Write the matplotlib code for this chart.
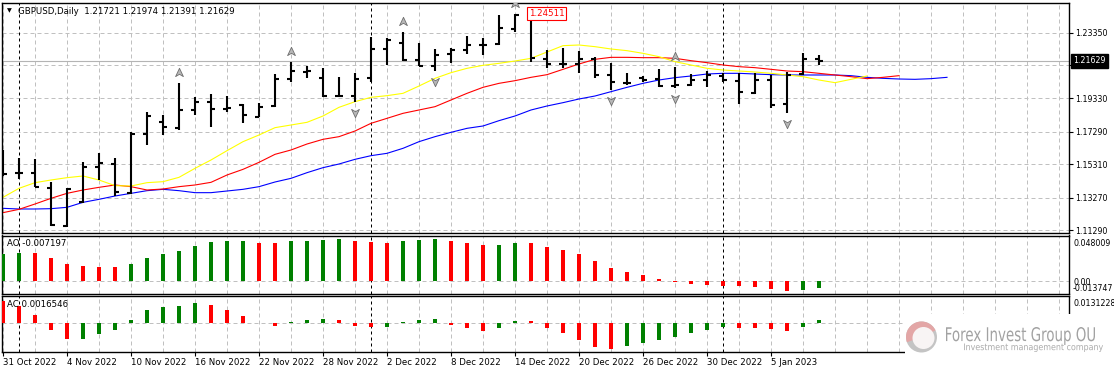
"""
GBPUSD daily bar chart with Alligator, Fractals, AO and AC sub-windows
(MetaTrader style screenshot recreation).
"""
import numpy as np
import pandas as pd
import matplotlib
matplotlib.use("Agg")
import matplotlib.pyplot as plt
from matplotlib.path import Path
from matplotlib.patches import PathPatch, Rectangle, Circle, Wedge
from matplotlib.textpath import TextPath
from matplotlib.font_manager import FontProperties
from matplotlib.transforms import Affine2D, offset_copy, blended_transform_factory


# ---- data -------------------------------------------------------------------
dates = [
    "2022-10-31", "2022-11-01", "2022-11-02", "2022-11-03", "2022-11-04",
    "2022-11-07", "2022-11-08", "2022-11-09", "2022-11-10", "2022-11-11",
    "2022-11-14", "2022-11-15", "2022-11-16", "2022-11-17", "2022-11-18",
    "2022-11-21", "2022-11-22", "2022-11-23", "2022-11-24", "2022-11-25",
    "2022-11-28", "2022-11-29", "2022-11-30", "2022-12-01", "2022-12-02",
    "2022-12-05", "2022-12-06", "2022-12-07", "2022-12-08", "2022-12-09",
    "2022-12-12", "2022-12-13", "2022-12-14", "2022-12-15", "2022-12-16",
    "2022-12-19", "2022-12-20", "2022-12-21", "2022-12-22", "2022-12-23",
    "2022-12-26", "2022-12-27", "2022-12-28", "2022-12-29", "2022-12-30",
    "2023-01-02", "2023-01-03", "2023-01-04", "2023-01-05", "2023-01-06",
    "2023-01-09", "2023-01-10",
]

opens = [1.15570, 1.14755, 1.14755, 1.13878, 1.11536, 1.13023, 1.15162, 1.15325,
         1.13532, 1.17159, 1.17913, 1.17505, 1.18626, 1.19094, 1.18687, 1.18931,
         1.18218, 1.18870, 1.20500, 1.20948, 1.20602, 1.19502, 1.19502, 1.20561,
         1.22333, 1.22700, 1.21682, 1.21335, 1.22028, 1.22293, 1.22578, 1.22639,
         1.23556, 1.24228, 1.21743, 1.21437, 1.21437, 1.21722, 1.20765, 1.20297,
         1.20602, 1.20500, 1.20093, 1.20154, 1.20459, 1.20704, 1.20418, 1.19644,
         1.20459, 1.18992, 1.20826, 1.21721]
highs = [1.16181, 1.15671, 1.15610, 1.14245, 1.13838, 1.15427, 1.15977, 1.15671,
         1.17301, 1.18526, 1.18320, 1.20296, 1.19400, 1.19583, 1.19502, 1.18972,
         1.19033, 1.20826, 1.21580, 1.21315, 1.21172, 1.20622, 1.20868, 1.23067,
         1.23006, 1.23413, 1.22700, 1.22333, 1.22394, 1.23169, 1.23046, 1.24432,
         1.24511, 1.24289, 1.22293, 1.22394, 1.22231, 1.21885, 1.21478, 1.20908,
         1.20704, 1.21131, 1.21274, 1.20826, 1.21029, 1.20868, 1.20908, 1.20868,
         1.20765, 1.20969, 1.22089, 1.21974]
lows = [1.14592, 1.14387, 1.13899, 1.11536, 1.11495, 1.12921, 1.14347, 1.13369,
        1.13491, 1.16489, 1.17098, 1.17403, 1.18320, 1.17607, 1.18524, 1.17811,
        1.18177, 1.18789, 1.20357, 1.20561, 1.19400, 1.19481, 1.19135, 1.20357,
        1.21376, 1.21620, 1.21315, 1.21029, 1.21518, 1.22048, 1.21987, 1.22598,
        1.23413, 1.21580, 1.21172, 1.21172, 1.20868, 1.20561, 1.19848, 1.20154,
        1.20357, 1.20011, 1.19970, 1.20093, 1.20052, 1.20357, 1.18972, 1.19583,
        1.18727, 1.18422, 1.20765, 1.21391]
closes = [1.14694, 1.14796, 1.13940, 1.11577, 1.13777, 1.15162, 1.15366, 1.13594,
          1.17159, 1.18281, 1.17607, 1.18628, 1.19094, 1.18666, 1.18768, 1.18320,
          1.18829, 1.20500, 1.21029, 1.20989, 1.19502, 1.19481, 1.20520, 1.22333,
          1.22904, 1.21682, 1.21335, 1.21987, 1.22293, 1.22598, 1.22619, 1.23617,
          1.24432, 1.21783, 1.21437, 1.21437, 1.21722, 1.20765, 1.20317, 1.20276,
          1.20459, 1.20093, 1.20154, 1.20459, 1.20765, 1.20459, 1.19705, 1.20459,
          1.18931, 1.20765, 1.21722, 1.21629]

# Alligator lines (already shifted forward, so they run past the last bar)
jaw = [1.12616, 1.12575, 1.12575, 1.12595, 1.12677, 1.12982, 1.13166, 1.13369,
       1.13532, 1.13695, 1.13777, 1.13695, 1.13573, 1.13573, 1.13675, 1.13777,
       1.13940, 1.14225, 1.14449, 1.14795, 1.15101, 1.15325, 1.15610, 1.15834,
       1.15977, 1.16283, 1.16690, 1.16996, 1.17261, 1.17505, 1.17648, 1.17974,
       1.18259, 1.18626, 1.18870, 1.19074, 1.19298, 1.19481, 1.19746, 1.20011,
       1.20255, 1.20459, 1.20602, 1.20704, 1.20826, 1.20867, 1.20867, 1.20826,
       1.20785, 1.20765, 1.20765, 1.20765, 1.20765, 1.20724, 1.20622, 1.20561,
       1.20520, 1.20500, 1.20541, 1.20622]
teeth = [1.12351, 1.12554, 1.12880, 1.13227, 1.13532, 1.13736, 1.13899, 1.14042,
         1.13940, 1.13736, 1.13797, 1.13940, 1.14042, 1.14205, 1.14653, 1.14999,
         1.15427, 1.15916, 1.16181, 1.16547, 1.16833, 1.16996, 1.17342, 1.17811,
         1.18116, 1.18422, 1.18626, 1.18829, 1.19237, 1.19644, 1.20011, 1.20255,
         1.20418, 1.20622, 1.20785, 1.21111, 1.21437, 1.21722, 1.21844, 1.21844,
         1.21824, 1.21824, 1.21783, 1.21641, 1.21518, 1.21376, 1.21274, 1.21213,
         1.21111, 1.21009, 1.20968, 1.20867, 1.20765, 1.20663, 1.20541, 1.20622,
         1.20724]
lips = [1.13288, 1.13838, 1.14184, 1.14347, 1.14490, 1.14592, 1.14347, 1.14001,
        1.13980, 1.14184, 1.14245, 1.14510, 1.15060, 1.15570, 1.16140, 1.16690,
        1.17098, 1.17546, 1.17709, 1.17872, 1.18259, 1.18789, 1.19135, 1.19400,
        1.19502, 1.19644, 1.20092, 1.20561, 1.20907, 1.21172, 1.21356, 1.21478,
        1.21620, 1.21783, 1.22170, 1.22558, 1.22598, 1.22496, 1.22354, 1.22252,
        1.22089, 1.21885, 1.21580, 1.21376, 1.21172, 1.21070, 1.21009, 1.20948,
        1.20867, 1.20765, 1.20663, 1.20459, 1.20296, 1.20500, 1.20704]

ao = [0.02785, 0.02996, 0.02891, 0.02362, 0.01727, 0.01516, 0.01498, 0.01410,
      0.01727, 0.02362, 0.02785, 0.03173, 0.03701, 0.04124, 0.04212, 0.04230,
      0.04054, 0.04019, 0.04230, 0.04240, 0.04371, 0.04380, 0.04265, 0.04124,
      0.04054, 0.04230, 0.04371, 0.04477, 0.04265, 0.04019, 0.03807, 0.03825,
      0.04054, 0.04019, 0.03631, 0.03314, 0.02785, 0.02045, 0.01304, 0.00881,
      0.00564, 0.00141, -0.00176, -0.00388, -0.00423, -0.00529, -0.00599, -0.00705,
      -0.00917, -0.01128, -0.01022, -0.007197]
ac = [0.01102, 0.00826, 0.00405, -0.00340, -0.00778, -0.00761, -0.00535, -0.00340,
      0.00146, 0.00632, 0.00778, 0.00826, 0.00988, 0.00891, 0.00648, 0.00340,
      0.00032, -0.00130, 0.00049, 0.00146, 0.00194, 0.00146, -0.00130, -0.00194,
      -0.00178, 0.00049, 0.00178, 0.00194, -0.00097, -0.00243, -0.00389, -0.00243,
      0.00113, 0.00097, -0.00243, -0.00470, -0.00810, -0.01150, -0.01247, -0.01102,
      -0.00956, -0.00810, -0.00664, -0.00470, -0.00324, -0.00194, -0.00243, -0.00250,
      -0.00292, -0.00389, -0.00194, 0.0016546]
ao_first_up = True     # colour of the first histogram bar (previous value unknown)
ac_first_up = False

price_ticks = [1.11290, 1.13270, 1.15310, 1.17290, 1.19330, 1.21370, 1.23350]
price_range = (1.11108, 1.25165)
ao_range = (-0.013747, 0.048009)
ac_range = (-0.01395, 0.0131228)

symbol = "GBPUSD,Daily"


# ---- layout / style -----------------------------------------------------------
W, H, DPI = 1114, 372, 100
GRID = "#c0c0c0"
GREEN = "#008000"
RED = "#ff0000"
FS = 6.2
FS_R = 5.7          # right-hand scale labels
DASH = (0, (4, 3))

plt.rcParams["font.family"] = ["DejaVu Sans"]
plt.rcParams["font.size"] = FS

fig = plt.figure(figsize=(W / DPI, H / DPI), dpi=DPI)
fig.patch.set_facecolor("white")
px = Affine2D().scale(1 / W, 1 / H) + fig.transFigure   # image pixels, y up


def panel(top, bottom):
    return fig.add_axes([2 / W, 1 - bottom / H, 1067 / W, (bottom - top) / H])


ax_p = panel(3, 233)
ax_ao = panel(235.5, 293.7)
ax_ac = panel(296.3, 352)

bar_dates = pd.to_datetime(dates)
n = len(closes)
x = np.arange(n)
opens, highs, lows, closes = map(np.asarray, (opens, highs, lows, closes))
month_starts = [i for i in range(1, n) if bar_dates[i].month != bar_dates[i - 1].month]

for ax, yr in ((ax_p, price_range), (ax_ao, ao_range), (ax_ac, ac_range)):
    ax.set_xlim(-1 / 16, 1066 / 16)
    ax.set_ylim(*yr)
    for s in ax.spines.values():
        s.set_linewidth(1.0)
        s.set_color("black")
    for gx in range(0, 67, 2):
        ax.axvline(gx, color=GRID, lw=0.72, ls=DASH, zorder=0)
    for ms in month_starts:
        ax.axvline(ms, color="black", lw=0.72, ls=(0, (3, 3)), zorder=1)
    ax.tick_params(axis="x", which="both", bottom=False, labelbottom=False)
    ax.tick_params(axis="y", which="both", left=False, labelleft=False)

# ---- main price panel ---------------------------------------------------------
for v in price_ticks:
    ax_p.axhline(v, color=GRID, lw=0.72, ls=DASH, zorder=0)
ax_p.axhline(closes[-1], color="#b4b4b4", lw=0.8, zorder=1)

ax_p.plot(np.arange(len(jaw)), jaw, color="#0000ff", lw=0.8, zorder=2)
ax_p.plot(np.arange(len(teeth)), teeth, color="#ff0000", lw=0.8, zorder=2.1)
ax_p.plot(np.arange(len(lips)), lips, color="#ffff00", lw=0.8, zorder=2.2)

ax_p.vlines(x, lows, highs, color="black", lw=1.5, zorder=4)
ax_p.hlines(opens, x - 0.25, x, color="black", lw=1.5, zorder=4)
ax_p.hlines(closes, x, x + 0.25, color="black", lw=1.5, zorder=4)

# Bill Williams fractals
up_idx = [i for i in range(2, n - 2)
          if highs[i] > max(highs[i - 2], highs[i - 1], highs[i + 1], highs[i + 2])]
dn_idx = [i for i in range(2, n - 2)
          if lows[i] < min(lows[i - 2], lows[i - 1], lows[i + 1], lows[i + 2])]
up_arrow = Path([(0, 1), (0.75, -0.6), (0, -0.15), (-0.75, -0.6), (0, 1)],
                [Path.MOVETO, Path.LINETO, Path.LINETO, Path.LINETO, Path.CLOSEPOLY])
dn_arrow = Path([(vx, -vy) for vx, vy in up_arrow.vertices], up_arrow.codes)
ax_p.plot(up_idx, highs[up_idx], ls="none", marker=up_arrow, ms=7.5,
          mfc="#b8b8b8", mec="#6e6e6e", mew=0.6, zorder=5,
          transform=offset_copy(ax_p.transData, fig=fig, y=10, units="dots"))
ax_p.plot(dn_idx, lows[dn_idx], ls="none", marker=dn_arrow, ms=7.5,
          mfc="#b8b8b8", mec="#6e6e6e", mew=0.6, zorder=5,
          transform=offset_copy(ax_p.transData, fig=fig, y=-10, units="dots"))

ax_p.yaxis.tick_right()
ax_p.set_yticks(price_ticks)
ax_p.set_yticklabels([f"{v:.5f}" for v in price_ticks])
ax_p.tick_params(axis="y", right=True, labelright=True, length=3, width=0.8,
                 pad=1.5, labelsize=FS_R)

# current price tag and highest high tag
ax_p.text(1.0038, closes[-1], f"{closes[-1]:.5f}", transform=ax_p.get_yaxis_transform(),
          ha="left", va="center", color="white", fontsize=FS_R, zorder=10,
          bbox=dict(boxstyle="square,pad=0.3", fc="black", ec="black"))
imax = int(np.argmax(highs))
ax_p.annotate(f"{highs[imax]:.5f}", xy=(imax, highs[imax]), xytext=(14, 0),
              textcoords="offset pixels", ha="left", va="center", color=RED,
              fontsize=FS, zorder=10,
              bbox=dict(boxstyle="square,pad=0.2", fc="white", ec=RED, lw=0.8))

fig.text(7 / W, 1 - 11 / H, "\u25bc", fontsize=4.5, va="center", ha="left")
fig.text(18 / W, 1 - 11 / H,
         f"{symbol}  {opens[-1]:.5f} {highs[-1]:.5f} {lows[-1]:.5f} {closes[-1]:.5f}",
         fontsize=FS, va="center", ha="left")


# ---- oscillator panels ----------------------------------------------------------
def histogram(ax, vals, first_up, name, decimals, yr, top_dy):
    vals = np.asarray(vals)
    up = np.r_[first_up, np.diff(vals) > 0]
    ax.bar(x, vals, width=0.19, color=np.where(up, GREEN, RED), lw=0, zorder=3)
    ax.axhline(0, color=GRID, lw=0.72, ls=DASH, zorder=0)
    yt = blended_transform_factory(ax.transAxes, ax.transData)
    ax.text(1.0038, yr[1], f"{yr[1]:.{decimals}f}", va="top", ha="left", fontsize=FS_R,
            transform=offset_copy(yt, fig=fig, y=top_dy, units="dots"))
    ax.text(0.005, 1.0, f"{name} {vals[-1]:.{decimals}f}", va="top", ha="left",
            fontsize=FS, transform=offset_copy(ax.transAxes, fig=fig, y=-4, units="dots"))
    return yt


yt = histogram(ax_ao, ao, ao_first_up, "AO", 6, ao_range, -4)
ax_ao.text(1.0038, 0, "0.00", va="center", ha="left", fontsize=FS_R,
           transform=offset_copy(yt, fig=fig, y=-2, units="dots"))
ax_ao.text(1.0038, ao_range[0], f"{ao_range[0]:.6f}", va="bottom", ha="left", fontsize=FS_R,
           transform=offset_copy(yt, fig=fig, y=1, units="dots"))

histogram(ax_ac, ac, ac_first_up, "AC", 7, ac_range, -3)

label_idx = list(range(0, n, 4))
ax_ac.set_xticks(label_idx)
ax_ac.set_xticklabels([f"{bar_dates[i].day} {bar_dates[i]:%b %Y}" for i in label_idx],
                      ha="left")
ax_ac.tick_params(axis="x", bottom=True, labelbottom=True, length=3, width=0.8,
                  pad=1.5, labelsize=FS)

# ---- watermark (covers the lower right corner) ----------------------------------
fig.add_artist(Rectangle((905, 0), W - 905, H - 314, transform=px,
                         fc="white", ec="none", zorder=5))
cx, cy = 921.5, H - 337
fig.add_artist(Circle((cx, cy), 15.5, transform=px, fc="#c4c4c4", ec="none", zorder=6))
fig.add_artist(Wedge((cx, cy), 15.5, 25, 200, transform=px, fc="#e3a6a6", ec="none", zorder=6))
fig.add_artist(Circle((cx + 2, cy - 1), 11, transform=px, fc="#f8f4f4", ec="none", zorder=6))


def stretched_text(s, x0, x1, y_top, y_bot, color):
    tp = TextPath((0, 0), s, size=10, prop=FontProperties(family="DejaVu Sans"))
    bb = tp.get_extents()
    t = (Affine2D().translate(-bb.x0, -bb.y0)
         .scale((x1 - x0) / bb.width, (y_bot - y_top) / bb.height)
         .translate(x0, H - y_bot))
    fig.add_artist(PathPatch(t.transform_path(tp), transform=px, fc=color,
                             ec="none", zorder=7))


stretched_text("Forex Invest Group OU", 946, 1095, 327, 345, "#a2a2a2")
stretched_text("Investment management company", 964, 1103, 343.5, 352, "#ababab")

fig.savefig("out.png", dpi=DPI)
